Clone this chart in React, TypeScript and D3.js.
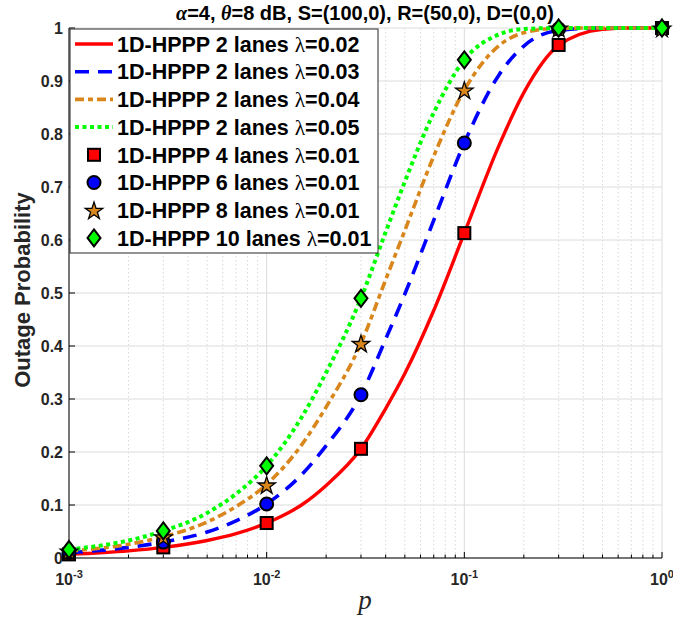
import React from "react";
import * as d3 from "d3";

const pGrid = [0.001, 0.002, 0.003, 0.005, 0.007, 0.01, 0.015, 0.02, 0.03, 0.04, 0.05, 0.07, 0.1, 0.15, 0.2, 0.3, 0.5, 0.7, 1];
const lam002 = [0.0068, 0.0135, 0.02, 0.033, 0.046, 0.066, 0.1, 0.137, 0.206, 0.282, 0.348, 0.467, 0.613, 0.779, 0.878, 0.967, 0.9975, 0.9999, 1];
const lam003 = [0.01, 0.02, 0.03, 0.049, 0.07, 0.102, 0.157, 0.212, 0.308, 0.413, 0.498, 0.637, 0.783, 0.912, 0.966, 0.9955, 0.9999, 1, 1];
const lam004 = [0.013, 0.026, 0.04, 0.068, 0.097, 0.139, 0.213, 0.285, 0.405, 0.525, 0.618, 0.758, 0.883, 0.967, 0.991, 0.9995, 1, 1, 1];
const lam005 = [0.016, 0.033, 0.051, 0.085, 0.121, 0.174, 0.265, 0.35, 0.49, 0.615, 0.71, 0.84, 0.94, 0.988, 0.998, 1, 1, 1, 1];

const pMarks = [0.001, 0.003, 0.01, 0.03, 0.1, 0.3, 1];
const lanes4 = [0.0068, 0.02, 0.066, 0.206, 0.613, 0.968, 1];
const lanes6 = [0.01, 0.03, 0.102, 0.308, 0.783, 0.998, 1];
const lanes8 = [0.013, 0.04, 0.138, 0.405, 0.883, 1, 1];
const lanes10 = [0.016, 0.051, 0.174, 0.49, 0.94, 1, 1];

const yTicks = [0, 0.1, 0.2, 0.3, 0.4, 0.5, 0.6, 0.7, 0.8, 0.9, 1];
const xDecades = [-3, -2, -1, 0];

const legendLabels = [
  "1D-HPPP 2 lanes ",
  "1D-HPPP 2 lanes ",
  "1D-HPPP 2 lanes ",
  "1D-HPPP 2 lanes ",
  "1D-HPPP 4 lanes ",
  "1D-HPPP 6 lanes ",
  "1D-HPPP 8 lanes ",
  "1D-HPPP 10 lanes ",
];
const legendLams = ["=0.02", "=0.03", "=0.04", "=0.05", "=0.01", "=0.01", "=0.01", "=0.01"];

const FONT = "'Liberation Sans', Arial, Helvetica, sans-serif";
const ORANGE = "#D9861C";

const L = 69, R = 662, T = 28, B = 558;

export default function App() {
  const x = d3.scaleLog().domain([1e-3, 1]).range([L, R]);
  const y = d3.scaleLinear().domain([0, 1]).range([B, T]);

  const line = d3
    .line<number>()
    .x((_, i) => x(pGrid[i]))
    .y((d) => y(d))
    .curve(d3.curveMonotoneX);

  const minorX: number[] = [];
  for (let e = -3; e < 0; e++) for (let k = 2; k <= 9; k++) minorX.push(k * Math.pow(10, e));

  const lines = [
    { data: lam002, color: "#FF0000", dash: undefined as string | undefined, w: 3.4 },
    { data: lam003, color: "#0000FF", dash: "14,9", w: 3.6 },
    { data: lam004, color: ORANGE, dash: "9,4,5,4", w: 3.6 },
    { data: lam005, color: "#00FF00", dash: "4,3.5", w: 4 },
  ];

  const starPath = d3.symbol().type(d3.symbolStar).size(95)() as string;
  const diamondPath = "M0,-8.5L6.5,0L0,8.5L-6.5,0Z";

  const marker = (kind: number, cx: number, cy: number, key: string) => {
    const sw = 2;
    if (kind === 0)
      return <rect key={key} x={cx - 6} y={cy - 6} width={12} height={12} fill="#FF0000" stroke="#000" strokeWidth={sw} />;
    if (kind === 1) return <circle key={key} cx={cx} cy={cy} r={6.5} fill="#0000FF" stroke="#000" strokeWidth={sw} />;
    if (kind === 2)
      return <path key={key} d={starPath} transform={`translate(${cx},${cy + 1})`} fill={ORANGE} stroke="#000" strokeWidth={1.3} />;
    return <path key={key} d={diamondPath} transform={`translate(${cx},${cy})`} fill="#00FF00" stroke="#000" strokeWidth={sw} />;
  };

  const markerSeries = [lanes4, lanes6, lanes8, lanes10];

  const legX = 70, legY = 29, legW = 308, legH = 224;
  const rowY0 = 44, rowDy = 27.7;

  return (
    <svg width={673} height={619} style={{ position: "absolute", left: 0, top: 0, background: "#fff" }} fontFamily={FONT}>
      <rect x={0} y={0} width={673} height={619} fill="#fff" />
      {minorX.map((v, i) => (
        <line key={"mx" + i} x1={x(v)} x2={x(v)} y1={T} y2={B} stroke="#d8d8d8" strokeWidth={1} strokeDasharray="1.5,2.5" />
      ))}
      {xDecades.map((e) => (
        <line key={"gx" + e} x1={x(Math.pow(10, e))} x2={x(Math.pow(10, e))} y1={T} y2={B} stroke="#dcdcdc" strokeWidth={1} />
      ))}
      {yTicks.map((t) => (
        <line key={"gy" + t} x1={L} x2={R} y1={y(t)} y2={y(t)} stroke="#dcdcdc" strokeWidth={1} />
      ))}
      <line x1={L} x2={L} y1={T} y2={B} stroke="#000" strokeWidth={1} />
      <line x1={L} x2={R} y1={B} y2={B} stroke="#000" strokeWidth={1} />
      {yTicks.map((t) => (
        <g key={"yt" + t}>
          <line x1={L} x2={L + 6} y1={y(t)} y2={y(t)} stroke="#000" />
          <text x={L - 6} y={y(t)} dy="0.35em" textAnchor="end" fontSize={16} fontWeight="bold" fill="#262626">
            {String(t)}
          </text>
        </g>
      ))}
      {minorX.map((v, i) => (
        <line key={"mt" + i} x1={x(v)} x2={x(v)} y1={B} y2={B - 3.5} stroke="#000" />
      ))}
      {xDecades.map((e) => (
        <g key={"xt" + e}>
          <line x1={x(Math.pow(10, e))} x2={x(Math.pow(10, e))} y1={B} y2={B - 6} stroke="#000" />
          <text x={x(Math.pow(10, e))} y={585} textAnchor="middle" fontSize={16} fontWeight="bold" fill="#262626">
            10
            <tspan fontSize={11} dy={-7}>
              {String(e)}
            </tspan>
          </text>
        </g>
      ))}
      <text x={365} y={609} textAnchor="middle" fontSize={27} fontStyle="italic" fontFamily="'Liberation Serif', 'Times New Roman', serif" fill="#262626">
        p
      </text>
      <text transform="translate(30,290) rotate(-90)" textAnchor="middle" fontSize={22} fontWeight="bold" fill="#262626">
        Outage Probability
      </text>
      <text x={365} y={20} textAnchor="middle" fontSize={20} fontWeight="bold" fill="#000">
        <tspan fontFamily="'Liberation Serif', serif" fontStyle="italic">α</tspan>=4, <tspan fontFamily="'Liberation Serif', serif" fontStyle="italic">θ</tspan>=8 dB, S=(100,0), R=(50,0), D=(0,0)
      </text>
      {lines.map((l, i) => (
        <path key={"ln" + i} d={line(l.data) as string} fill="none" stroke={l.color} strokeWidth={l.w} strokeDasharray={l.dash} />
      ))}
      {markerSeries.map((s, k) => s.map((v, i) => marker(k, x(pMarks[i]), y(v), `m${k}-${i}`)))}
      <rect x={legX} y={legY} width={legW} height={legH} fill="#fff" stroke="#262626" strokeWidth={1} />
      {legendLabels.map((lab, i) => {
        const cy = rowY0 + i * rowDy;
        return (
          <g key={"lg" + i}>
            {i < 4 ? (
              <line x1={75} x2={113} y1={cy} y2={cy} stroke={lines[i].color} strokeWidth={lines[i].w} strokeDasharray={lines[i].dash} />
            ) : (
              marker(i - 4, 94, cy, "lm" + i)
            )}
            <text x={117} y={cy} dy="0.36em" fontSize={21.5} fontWeight="bold" fill="#000">
              {lab}
              <tspan fontFamily="'Liberation Serif', serif" fontWeight="normal">λ</tspan>
              {legendLams[i]}
            </text>
          </g>
        );
      })}
    </svg>
  );
}
